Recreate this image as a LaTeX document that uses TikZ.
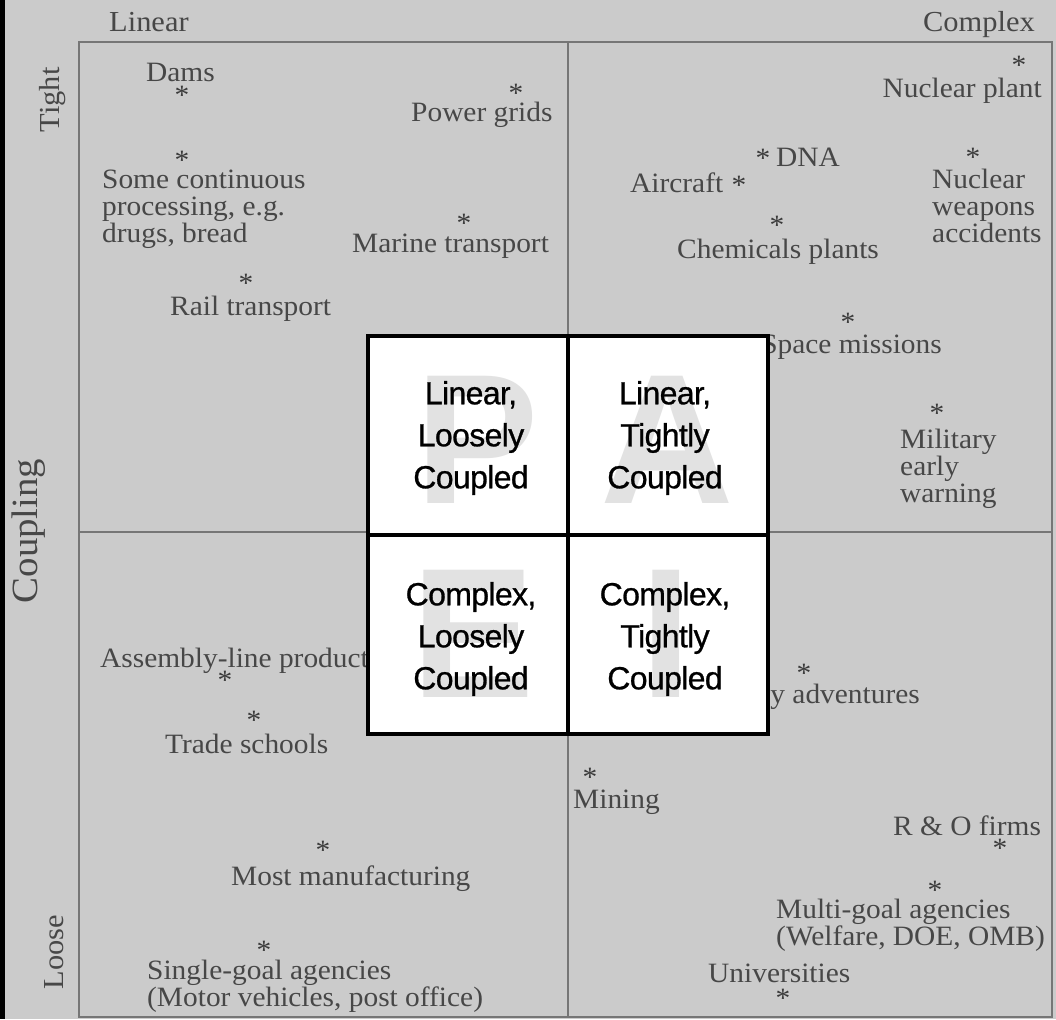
\documentclass[tikz,border=0pt]{standalone}
\usepackage{fontspec}
\setmainfont{Liberation Serif}[FakeStretch=1.05]
\newfontfamily\cellfont{Liberation Sans}[FakeBold=0.8, LetterSpace=-2]
\newfontfamily\bigletterfont{Liberation Sans}
\definecolor{bggray}{HTML}{CBCBCB}
\definecolor{txtgray}{HTML}{474747}
\definecolor{stargray}{HTML}{3A3A3A}
\definecolor{framegray}{HTML}{767676}
\definecolor{lettergray}{HTML}{E2E2E2}
\newcommand\mlines[1]{\vtop{\baselineskip=27pt\halign{##\hfil\cr#1\crcr}}}
\begin{document}
\begin{tikzpicture}[x=1pt,y=-1pt,
  lbl/.style={inner sep=0pt, text=txtgray, font=\fontsize{28}{27}\selectfont},
  star/.style={inner sep=0pt, text=stargray, font=\fontsize{28}{27}\selectfont},
  axislbl/.style={inner sep=0pt, text=txtgray, font=\fontsize{29}{30}\selectfont},
  cell/.style={draw=black, line width=3.5pt, fill=white, minimum width=200pt, minimum height=199pt, inner sep=0pt},
  big/.style={inner sep=0pt, text=lettergray, font=\bigletterfont\bfseries\fontsize{185}{185}\selectfont},
  celltext/.style={inner sep=0pt, align=center, text=black, font=\cellfont\fontsize{32}{42}\selectfont},
  framestyle/.style={draw=framegray, line width=2.5pt}]
\useasboundingbox (0,0) rectangle (1056,1019);
\fill[bggray] (0,0) rectangle (1056,1019);
\fill[black] (0,0) rectangle (5,1019);
% frame
\draw[framestyle] (79,42) rectangle (1052,1017);
\draw[framestyle] (568,42) -- (568,1017);
\draw[framestyle] (79,532) -- (1052,532);
% axis labels
\node[axislbl, anchor=base west] (linear) at (109,32) {Linear};
\node[axislbl, anchor=base east] (complex) at (1035,32) {Complex};
\node[axislbl, rotate=90] (tight) at (53,100) {Tight};
\node[axislbl, rotate=90] (loose) at (54,952) {Loose};
\node[axislbl, rotate=90, font=\fontsize{37}{40}\selectfont] (coupling) at (29,531) {Coupling};
% top-left quadrant
\node[lbl, anchor=base west] (dams) at (146,82) {Dams};
\node[star] (sdams) at (182,95) {*};
\node[lbl, anchor=base west] (grids) at (411,122) {Power grids};
\node[star] (sgrids) at (516,93) {*};
\node[lbl, anchor=base west] (cont) at (102,188) {\mlines{Some continuous\cr processing, e.g.\cr drugs, bread}};
\node[star] (scont) at (182,160) {*};
\node[lbl, anchor=base west] (marine) at (352,252) {Marine transport};
\node[star] (smarine) at (464,223) {*};
\node[lbl, anchor=base west] (rail) at (170,315) {Rail transport};
\node[star] (srail) at (246,283) {*};
% top-right quadrant
\node[lbl, anchor=base east] (nplant) at (1042,98) {Nuclear plant};
\node[star] (snplant) at (1019,65) {*};
\node[lbl, anchor=base west] (dna) at (776,167) {DNA};
\node[star] (sdna) at (763,158) {*};
\node[lbl, anchor=base west] (aircraft) at (630,193) {Aircraft};
\node[star] (saircraft) at (739,185) {*};
\node[lbl, anchor=base west] (chem) at (677,258) {Chemicals plants};
\node[star] (schem) at (777,225) {*};
\node[lbl, anchor=base west] (weapons) at (932,188) {\mlines{Nuclear\cr weapons\cr accidents}};
\node[star] (sweapons) at (973,157) {*};
\node[lbl, anchor=base east] (space) at (942,353) {Space missions};
\node[star] (sspace) at (848,322) {*};
\node[lbl, anchor=base west] (early) at (900,448) {\mlines{Military\cr early\cr warning}};
\node[star] (searly) at (937,413) {*};
% bottom-left quadrant
\node[lbl, anchor=base west] (assembly) at (100,667) {Assembly-line production};
\node[star] (sassembly) at (225,680) {*};
\node[lbl, anchor=base west] (trade) at (165,753) {Trade schools};
\node[star] (strade) at (254,720) {*};
\node[lbl, anchor=base west] (most) at (231,885) {Most manufacturing};
\node[star] (smost) at (323,850) {*};
\node[lbl, anchor=base west] (single) at (147,979) {\mlines{Single-goal agencies\cr (Motor vehicles, post office)}};
\node[star] (ssingle) at (264,950) {*};
% bottom-right quadrant
\node[lbl, anchor=base east] (advent) at (920,703) {Military adventures};
\node[star] (sadvent) at (804,673) {*};
\node[lbl, anchor=base west] (mining) at (573,808) {Mining};
\node[star] (smining) at (590,777) {*};
\node[lbl, anchor=base west] (rdfirms) at (893,835) {R \& O firms};
\node[star] (srdfirms) at (1000,848) {*};
\node[lbl, anchor=base west] (multi) at (776,918) {\mlines{Multi-goal agencies\cr (Welfare, DOE, OMB)}};
\node[star] (smulti) at (935,890) {*};
\node[lbl, anchor=base west] (univ) at (708,982) {Universities};
\node[star] (suniv) at (783,998) {*};
% overlay box
\node[cell] (c11) at (468,435.5) {};
\node[cell] (c12) at (668,435.5) {};
\node[cell] (c21) at (468,634.5) {};
\node[cell] (c22) at (668,634.5) {};
\node[big] (bigP) at (477,440) {P};
\node[big] (bigA) at (667,440) {A};
\node[big] (bigE) at (473,634) {E};
\node[big] (bigI) at (666,634) {I};
\node[celltext] (t11) at (471,438) {Linear,\\Loosely\\Coupled};
\node[celltext] (t12) at (665,438) {Linear,\\Tightly\\Coupled};
\node[celltext] (t21) at (471,639) {Complex,\\Loosely\\Coupled};
\node[celltext] (t22) at (665,639) {Complex,\\Tightly\\Coupled};
\end{tikzpicture}
\end{document}
